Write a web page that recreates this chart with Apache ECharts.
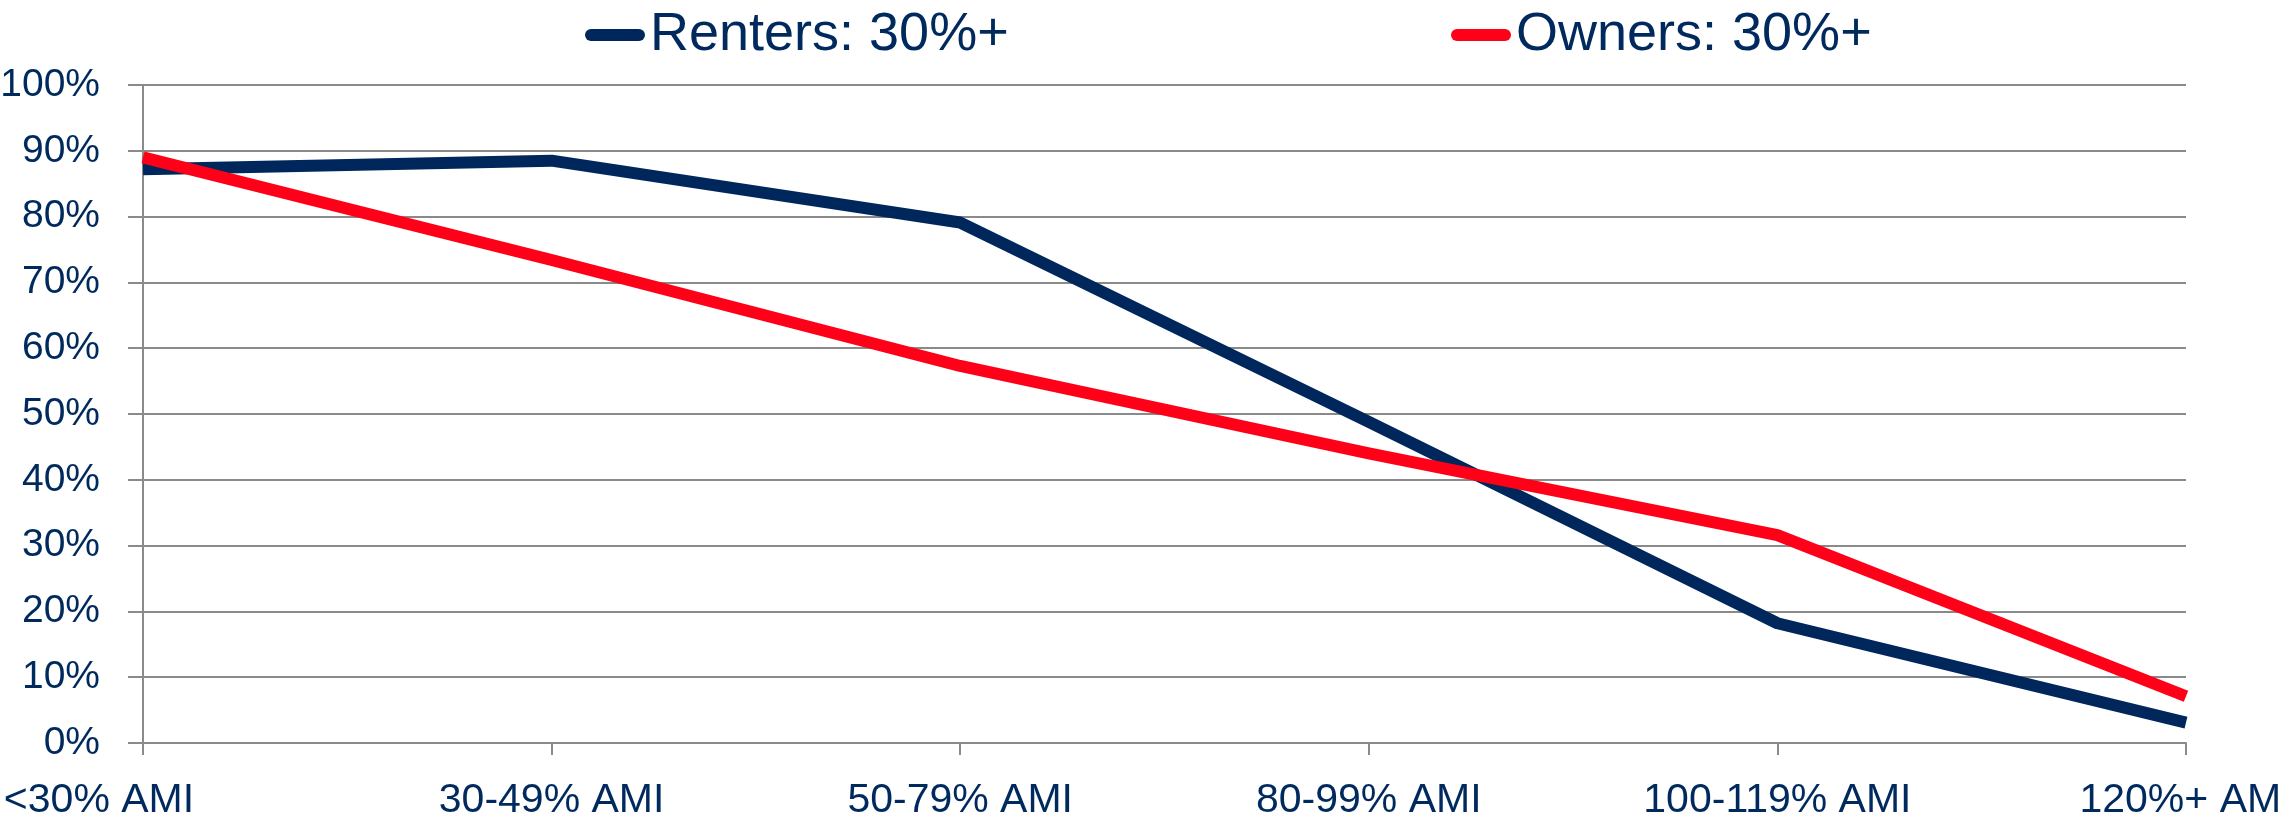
<!DOCTYPE html>
<html>
<head>
<meta charset="utf-8">
<script src="https://cdn.jsdelivr.net/npm/echarts@6/dist/echarts.min.js"></script>
<style>
html,body{margin:0;padding:0;background:#fff;}
#chart{width:2285px;height:822px;}
</style>
</head>
<body>
<div id="chart"></div>
<script>
const categories = ['<30% AMI', '30-49% AMI', '50-79% AMI', '80-99% AMI', '100-119% AMI', '120%+ AMI'];
const renters = [87.2, 88.5, 79.1, 48.8, 18.2, 3.1];
const owners = [89.0, 73.4, 57.3, 44.0, 31.6, 7.1];
const seriesNames = ['Renters: 30%+', 'Owners: 30%+'];
const yTicks = [0, 10, 20, 30, 40, 50, 60, 70, 80, 90, 100];

const NAVY = '#00275C';
const RED = '#FF0019';
const TEXT = '#002A5E';
const GRID = '#8A8A8A';
const FONT = '"Liberation Sans Narrow", "Arial Narrow", "Liberation Sans", Arial, sans-serif';
const capsule = 'path://M6,0 L54,0 A6,6 0 0 1 54,12 L6,12 A6,6 0 0 1 6,0 Z';

// first category label sits left of its tick in the reference
const xData = categories.map((c, i) => i === 0
  ? {value: c, textStyle: {padding: [0, 88, 0, 0]}}
  : c);

const chart = echarts.init(document.getElementById('chart'), null, {renderer: 'canvas'});
chart.setOption({
  animation: false,
  backgroundColor: '#ffffff',
  legend: [
    {
      data: [{name: seriesNames[0], icon: capsule, itemStyle: {color: NAVY}}],
      left: 580, top: 3,
      itemWidth: 60, itemHeight: 12, itemGap: 0,
      textStyle: {fontFamily: FONT, fontSize: 54, color: TEXT}
    },
    {
      data: [{name: seriesNames[1], icon: capsule, itemStyle: {color: RED}}],
      left: 1446, top: 3,
      itemWidth: 60, itemHeight: 12, itemGap: 0,
      textStyle: {fontFamily: FONT, fontSize: 54, color: TEXT}
    }
  ],
  grid: {left: 143, right: 99, top: 85, bottom: 79, containLabel: false, outerBoundsMode: 'none'},
  xAxis: {
    type: 'category',
    data: xData,
    boundaryGap: false,
    axisLine: {show: true, lineStyle: {color: GRID, width: 2}},
    axisTick: {show: true, length: 12, lineStyle: {color: GRID, width: 2}},
    axisLabel: {fontFamily: FONT, fontSize: 41, color: TEXT, margin: 37, interval: 0},
    splitLine: {show: false}
  },
  yAxis: {
    type: 'value',
    min: yTicks[0], max: yTicks[yTicks.length - 1], interval: 10,
    axisLine: {show: true, lineStyle: {color: GRID, width: 2}},
    axisTick: {show: true, length: 15, lineStyle: {color: GRID, width: 2}},
    axisLabel: {fontFamily: FONT, fontSize: 39, color: TEXT, margin: 43, formatter: v => v + '%'},
    splitLine: {show: true, lineStyle: {color: GRID, width: 2}}
  },
  series: [
    {
      name: seriesNames[0], type: 'line', data: renters,
      showSymbol: false, symbol: 'none',
      lineStyle: {color: NAVY, width: 12, join: 'round', cap: 'butt'},
      itemStyle: {color: NAVY}, z: 3
    },
    {
      name: seriesNames[1], type: 'line', data: owners,
      showSymbol: false, symbol: 'none',
      lineStyle: {color: RED, width: 12, join: 'round', cap: 'butt'},
      itemStyle: {color: RED}, z: 4
    }
  ]
});
</script>
</body>
</html>
